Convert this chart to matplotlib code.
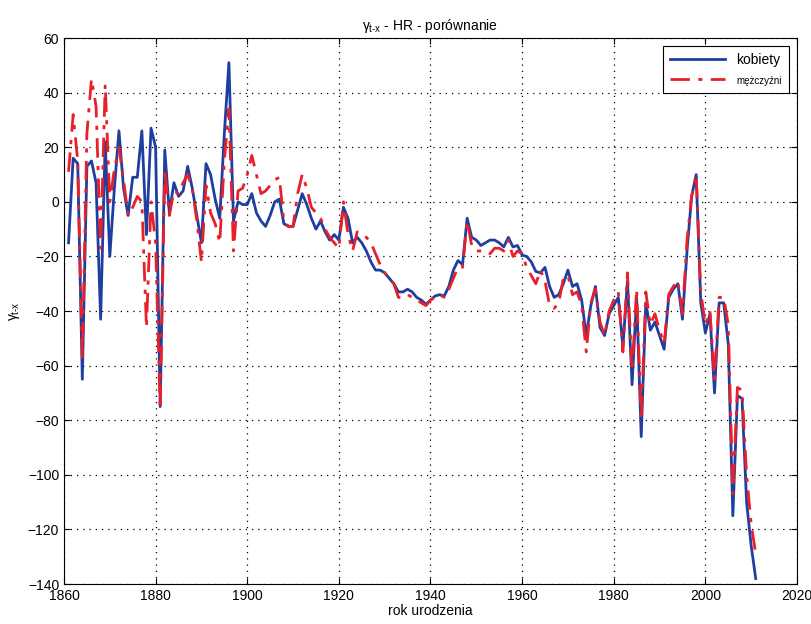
import numpy as np
import matplotlib
matplotlib.use("Agg")
import matplotlib.pyplot as plt

plt.rcParams['font.family'] = ['Liberation Sans Narrow', 'Liberation Sans', 'DejaVu Sans']
plt.rcParams['mathtext.fontset'] = 'custom'
plt.rcParams['mathtext.rm'] = 'Liberation Sans'
plt.rcParams['mathtext.it'] = 'Liberation Sans'

years = np.arange(1861, 2012)

# kobiety (blue)
kobiety = [
    -15, 16, 14, -65, 13, 15, 7, -43, 22, -20,      # 1861-1870
    5, 26, 5, -5, 9, 9, 26, -12, 27, 20,            # 1871-1880
    -75, 19, -4, 7, 2, 4, 13, 5, -5, -15,           # 1881-1890
    14, 10, 1, -6, 25, 51, -7, 0, -1, -1,           # 1891-1900
    3, -4, -7, -9, -5, 0, 1, -8, -9, -9,            # 1901-1910
    -3, 3, -1, -6, -10, -7, -11, -14, -12, -14,     # 1911-1920
    -2, -6, -15, -13, -15, -18, -22, -25, -25, -26, # 1921-1930
    -28, -30, -33, -33, -32, -33, -35, -36, -37.5, -36,  # 1931-1940
    -34.5, -34, -34.5, -31, -25, -21.5, -23, -6, -13, -14,  # 1941-1950
    -16, -15, -14, -14, -15, -16.5, -13, -16.5, -16, -19.5,  # 1951-1960
    -20, -22, -25.5, -26, -24, -31, -35, -34, -30, -25,  # 1961-1970
    -31, -30, -36, -49, -38, -31, -46, -49, -41, -38,    # 1971-1980
    -35, -53, -29, -67, -35, -86, -37, -47, -44, -49,    # 1981-1990
    -54, -35, -32, -30, -43, -18, 2, 10, -37, -48,       # 1991-2000
    -41, -70, -37, -37, -52, -115, -71, -72, -110, -126,  # 2001-2010
    -138,                                             # 2011
]

# mezczyzni (red)
mezczyzni = [
    11, 32, 15, -58, 25, 45, 35, -17, 43, 0,        # 1861-1870
    12, 20, 8, -5, -2, 2, 0, -46, 0, -15,           # 1871-1880
    -76, 12, -5, 4, 3, 7, 10, 5, -7, -22,           # 1881-1890
    6, -4, -8, -15, 15, 34, -18, 4, 5, 10,          # 1891-1900
    17, 10, 3, 4, 6, 8, 9, -7, -9, -9,              # 1901-1910
    3, 10, 5, -2, -4, -6, -10, -13, -15, -17,       # 1911-1920
    0, -12, -18, -11, -12, -13, -15, -19, -23, -26, # 1921-1930
    -28, -30, -35, -35, -34, -35, -36, -37, -38, -36,  # 1931-1940
    -35, -34, -35, -32, -28, -24, -24, -7, -16, -18,   # 1941-1950
    -18, -18, -19, -17, -17, -18, -14, -20, -18, -19,  # 1951-1960
    -24, -27, -30, -25, -29, -38, -39, -37, -28, -27,  # 1961-1970
    -34, -33, -38, -55, -37, -32, -44, -49, -40, -36,  # 1971-1980
    -33, -55, -26, -62, -32, -80, -33, -45, -41, -47,  # 1981-1990
    -52, -34, -31, -29, -41, -14, 2, 10, -33, -45,     # 1991-2000
    -40, -65, -35, -35, -45, -107, -68, -69, -100, -118,  # 2001-2010
    -129,                                              # 2011
]

xticks = np.arange(1860, 2021, 20)
yticks = np.arange(-140, 61, 20)

fig = plt.figure(figsize=(8.12, 6.24), dpi=100)
ax = fig.add_axes([0.0788, 0.0641, 0.9027, 0.8749])

ax.plot(years, kobiety, color='#1f3fa0', lw=2.0, label='kobiety')
ax.plot(years, mezczyzni, color='#e8202a', lw=2.0, ls=(0, (7, 3, 1.5, 3)),
        label='mężczyźni')

ax.set_xlim(1860, 2020)
ax.set_ylim(-140, 60)
ax.set_xticks(xticks)
ax.set_yticks(yticks)
ax.grid(True, ls=(0, (1, 4)), color='black', lw=0.9)
ax.tick_params(direction='in', length=4, labelsize=10, top=True, right=True,
               labeltop=False, labelright=False)
for s in ax.spines.values():
    s.set_linewidth(0.8)

ax.set_title(r'$\gamma_{\text{t-x}}$ - HR - porównanie', fontsize=10)
ax.set_xlabel('rok urodzenia', fontsize=10, labelpad=1)
ax.set_ylabel(r'$\gamma_{\text{t-x}}$', fontsize=10)

leg = ax.legend(loc='upper right', fancybox=False, edgecolor='black',
                framealpha=1, fontsize=10, handlelength=4, borderpad=0.5,
                borderaxespad=0.6)
leg.get_frame().set_linewidth(0.8)
leg.get_texts()[1].set_fontsize(7)

fig.savefig('out.png', dpi=100)
